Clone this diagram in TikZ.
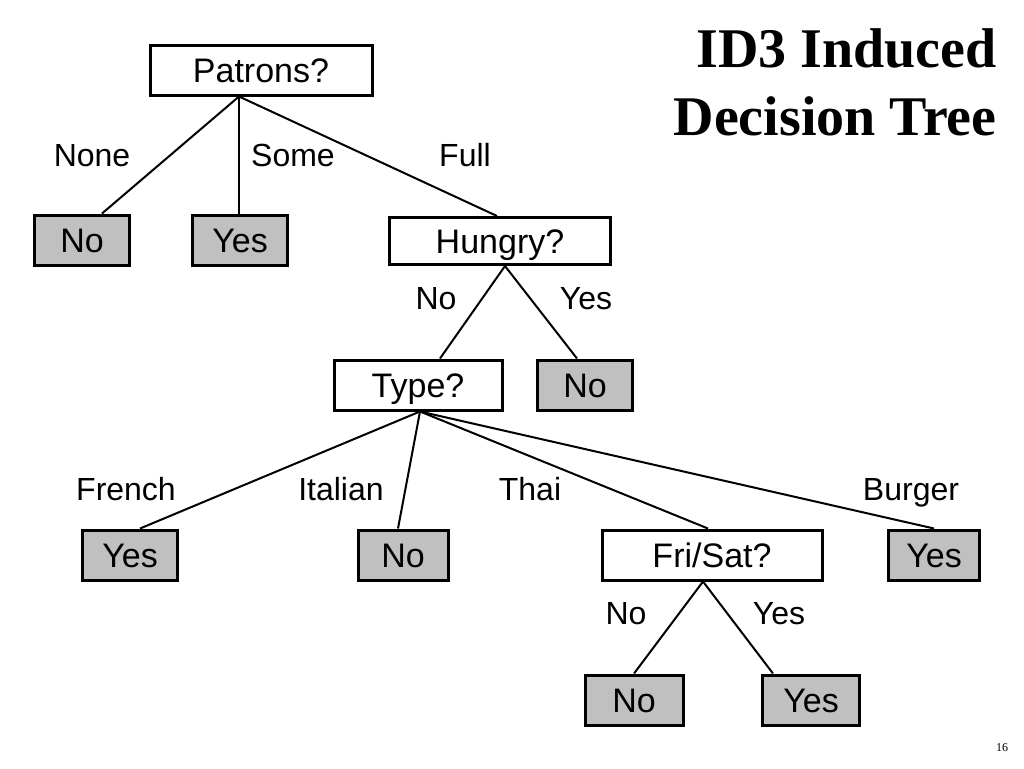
\documentclass[tikz,border=0pt]{standalone}
\usepackage{fontspec}
\setmainfont{Liberation Serif}
\newfontfamily\boxfont{Liberation Sans}
\usetikzlibrary{positioning}
\definecolor{leafgray}{HTML}{C0C0C0}
\tikzset{
test/.style={draw, line width=1.5pt, fill=white, minimum height=25pt, inner sep=0pt,
  text height=12pt, text depth=0pt, font=\boxfont\fontsize{17}{20}\selectfont},
leaf/.style={test, fill=leafgray, minimum width=47.5pt},
branch/.style={inner sep=0pt, text height=11.5pt, text depth=0pt,
  font=\boxfont\fontsize{16}{19}\selectfont},
every edge/.style={draw, line width=1pt},
}

\begin{document}
\begin{tikzpicture}[x=0.5pt,y=-0.5pt]
        \useasboundingbox (0,0) rectangle (1024,768);

        % tests and leaves
        \node[test, minimum width=111pt] (patrons) at (261,70) {Patrons?};
        \node[leaf] (no1) at (82,240) {No};
        \node[leaf] (yes1) at (240,240) {Yes};
        \node[test, minimum width=110.5pt, minimum height=23.5pt] (hungry) at (500,241) {Hungry?};
        \node[test, minimum width=84pt] (type) at (418,385) {Type?};
        \node[leaf] (no2) at (585,385) {No};
        \node[leaf] (yes2) at (130,555) {Yes};
        \node[leaf, minimum width=45pt] (no3) at (403,555) {No};
        \node[test, minimum width=110pt] (frisat) at (712,555) {Fri/Sat?};
        \node[leaf, minimum width=45.5pt] (yes3) at (934,555) {Yes};
        \node[leaf, minimum width=49pt] (no4) at (634,700) {No};
        \node[leaf, minimum width=48.5pt] (yes4) at (811,700) {Yes};

        \coordinate (pfork) at ([xshift=-11pt]patrons.south);
        \coordinate (hfork) at ([xshift=2.5pt]hungry.south);
        \coordinate (tfork) at ([xshift=1pt]type.south);
        \coordinate (ffork) at ([xshift=-4.5pt]frisat.south);

        \draw (pfork) edge ([xshift=10pt]no1.north);
        \draw (pfork) edge ([xshift=-0.5pt]yes1.north);
        \draw (pfork) edge ([xshift=-1.5pt]hungry.north);
        \draw (hfork) edge ([xshift=11pt]type.north);
        \draw (hfork) edge ([xshift=-4pt]no2.north);
        \draw (tfork) edge ([xshift=5pt]yes2.north);
        \draw (tfork) edge ([xshift=-2.5pt]no3.north);
        \draw (tfork) edge ([xshift=-2pt]frisat.north);
        \draw (tfork) edge (yes3.north);
        \draw (ffork) edge (no4.north);
        \draw (ffork) edge ([xshift=-19pt]yes4.north);

        % branch labels
        \node[branch] (none) at (92,155) {None};
        \node[branch] (some) at (293,155) {Some};
        \node[branch] (full) at (465,155) {Full};
        \node[branch] (hno) at (436,298) {No};
        \node[branch] (hyes) at (586,298) {Yes};
        \node[branch] (french) at (126,489) {French};
        \node[branch] (italian) at (341,489) {Italian};
        \node[branch] (thai) at (530,489) {Thai};
        \node[branch] (burger) at (911,489) {Burger};
        \node[branch] (fno) at (626,613) {No};
        \node[branch] (fyes) at (779,613) {Yes};

        \node[anchor=north east, align=right, inner sep=0pt,
          font=\bfseries\fontsize{28}{34}\selectfont] (title) at (997,28) {ID3 Induced\\Decision Tree};
        \node[font=\fontsize{6}{7}\selectfont] (page) at (1002,748) {16};

    \end{tikzpicture}
\end{document}
